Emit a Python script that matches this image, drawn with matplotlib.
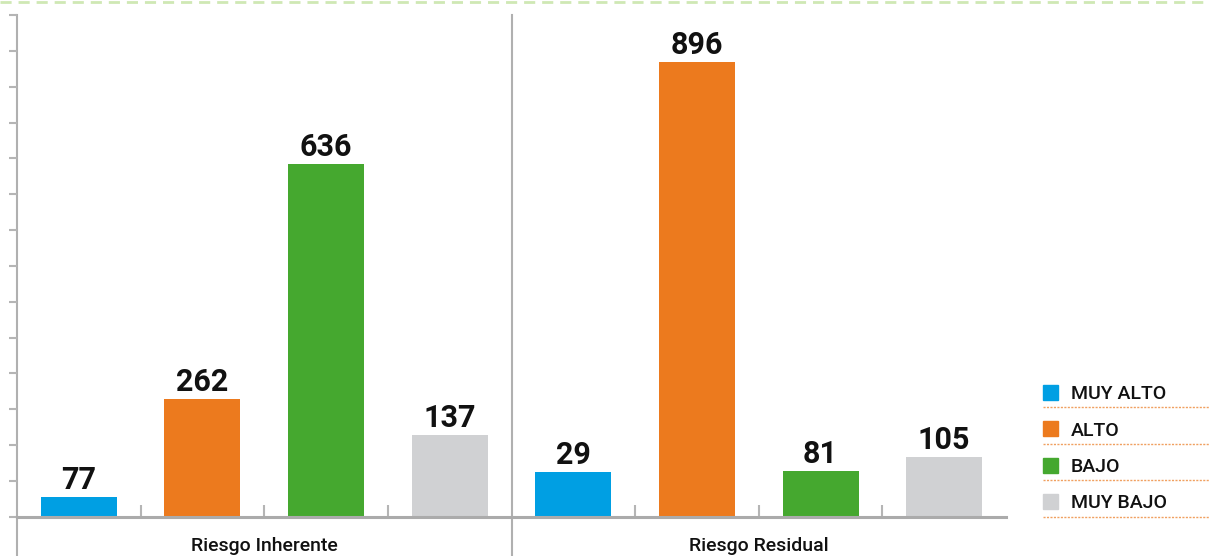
import matplotlib
matplotlib.use('Agg')
import matplotlib.pyplot as plt
from matplotlib.lines import Line2D
from matplotlib.patches import Rectangle

plt.rcParams['font.family'] = ['Roboto', 'DejaVu Sans']

groups = ['Riesgo Inherente', 'Riesgo Residual']
levels = ['MUY ALTO', 'ALTO', 'BAJO', 'MUY BAJO']
colors = ['#009FE3', '#EC7A1E', '#45A82F', '#D0D1D3']

# printed values
inherente = [77, 262, 636, 137]
residual = [29, 896, 81, 105]
# bar heights as drawn in the original (not to scale with the values)
inherente_h = [55, 328, 984, 228]
residual_h = [125, 1269, 127, 167]

W, H = 1210, 556
fig = plt.figure(figsize=(W / 100, H / 100), dpi=100)
ax = fig.add_axes([17 / W, 39.3 / H, 989 / W, 501.7 / H])

values = inherente + residual
heights = inherente_h + residual_h
xs = list(range(len(values)))
bar_colors = colors * len(groups)

ax.bar(xs, heights, width=76 / 123.6, color=bar_colors, zorder=2)
for x, h, v in zip(xs, heights, values):
    ax.text(x, h + 22, str(v), ha='center', va='baseline', fontsize=22,
            fontweight='bold', color='#111111')

ax.set_xlim(-0.5, 7.5)
ax.set_ylim(0, 1400)

gray = '#ababab'
for s in ['top', 'right', 'left']:
    ax.spines[s].set_visible(False)
ax.spines['bottom'].set_color(gray)
ax.spines['bottom'].set_linewidth(2.2)
ax.spines['bottom'].set_zorder(3)

ax.set_yticks(range(0, 1401, 100))
ax.set_yticklabels([])
ax.tick_params(axis='y', direction='out', length=6, width=1.5, color='#b5b5b5')
ax.set_xticks([0.5, 1.5, 2.5, 4.5, 5.5, 6.5])
ax.set_xticklabels([])
ax.tick_params(axis='x', direction='in', length=9, width=1.5, color='#b5b5b5')

# left axis line and group separator, running down past the baseline
for xv in [-0.5, 3.5]:
    ax.axvline(xv, ymin=-0.08, ymax=1, color='#b0b0b0', lw=1.5, clip_on=False, zorder=1)

for i, g in enumerate(groups):
    ax.text(1.5 + 4 * i, -0.069, g, transform=ax.get_xaxis_transform(),
            ha='center', va='baseline', fontsize=14, fontweight='medium',
            color='#111111')

# legend drawn by hand
for i, (lab, c) in enumerate(zip(levels, colors)):
    yc = 392 + 36.5 * i
    fig.patches.append(Rectangle((1043 / W, 1 - (yc + 7.5) / H), 15 / W, 15 / H,
                                 transform=fig.transFigure, color=c))
    fig.text(1071 / W, 1 - (yc + 7) / H, lab, ha='left', va='baseline', fontsize=14,
             fontweight='medium', color='#111111')
    yl = 1 - (yc + 15) / H
    fig.add_artist(Line2D([1043 / W, 1], [yl, yl], transform=fig.transFigure,
                          color='#F0A060', lw=1, ls=(0, (1.5, 1))))

# dashed line at top edge
fig.add_artist(Line2D([0, 1], [1 - 1.5 / H] * 2, transform=fig.transFigure,
                      color='#cfe8b4', lw=2, ls=(0, (4, 2.5))))

fig.savefig('out.png', dpi=100)
